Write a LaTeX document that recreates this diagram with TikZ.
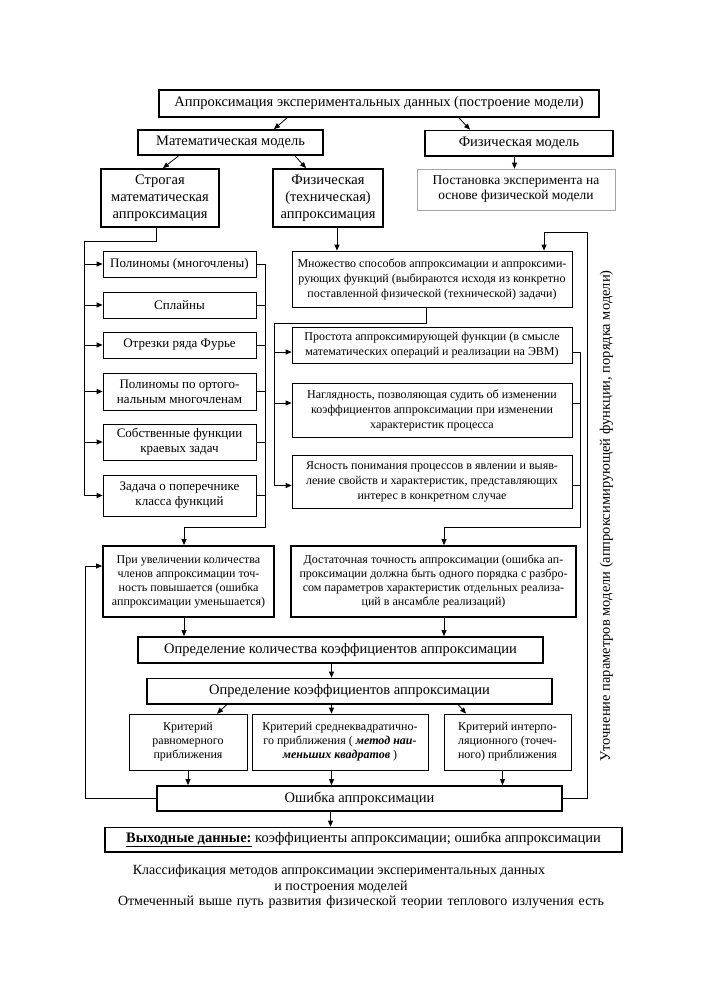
\documentclass[tikz,border=0pt]{standalone}
\usepackage{fontspec}
\setmainfont{Liberation Serif}
\usetikzlibrary{arrows.meta}
\newcommand\fmain{\fontsize{14.5}{17}\selectfont}
\newcommand\fcap{\fontsize{14}{16}\selectfont}
\newcommand\fpost{\fontsize{13.5}{15}\selectfont}
\newcommand\flist{\fontsize{13}{15}\selectfont}
\newcommand\fright{\fontsize{12}{15}\selectfont}
\newcommand\fsmall{\fontsize{12}{14}\selectfont}
\tikzset{
  thickbox/.style={draw, line width=1.8pt, inner sep=1pt, align=center, font=\fmain},
  thinbox/.style={draw, line width=0.8pt, inner sep=1pt, align=center},
  arr/.style={-{Triangle[length=6pt,width=5pt]}, line width=0.8pt},
  ln/.style={line width=0.8pt},
  plain/.style={inner sep=0pt, font=\fmain},
  captext/.style={inner sep=0pt, font=\fcap}
}
\begin{document}
\begin{tikzpicture}[x=1pt,y=-1pt]
\fill[white] (0,0) rectangle (709,1004);
\useasboundingbox (0,0) rectangle (709,1004);
% top level
\node[thickbox, minimum width=440, minimum height=27] (top) at (379,103.5) {Аппроксимация экспериментальных данных (построение модели)};
\node[thickbox, minimum width=185, minimum height=25] (mm) at (230.5,142.5) {Математическая модель};
\node[thickbox, minimum width=188, minimum height=25.5] (pm) at (519,143.3) {Физическая модель};
\node[thickbox, minimum width=118, minimum height=58] (strict) at (160,198) {Строгая\\математическая\\аппроксимация};
\node[thickbox, minimum width=110, minimum height=58] (phys) at (328,198) {Физическая\\(техническая)\\аппроксимация};
\node[thinbox, draw=gray!70, font=\fpost, minimum width=198, minimum height=41] (post) at (516,189.5) {Постановка эксперимента на\\основе физической модели};
% left list
\begin{scope}[every node/.style={thinbox, font=\flist, minimum width=153}]
\node[minimum height=26] (pol) at (179.5,264) {Полиномы (многочлены)};
\node[minimum height=26] (spl) at (179.5,305) {Сплайны};
\node[minimum height=26] (fur) at (179.5,345) {Отрезки ряда Фурье};
\node[minimum height=37] (ort) at (179.5,391.5) {Полиномы по ортого-\\нальным многочленам};
\node[minimum height=36] (sob) at (179.5,442) {Собственные функции\\краевых задач};
\node[minimum height=41] (zad) at (179.5,495.5) {Задача о поперечнике\\класса функций};
\end{scope}
% right list
\begin{scope}[every node/.style={thinbox, font=\fright, minimum width=280}]
\node[minimum height=56] (mn) at (432,279) {Множество способов аппроксимации и аппроксими-\\рующих функций (выбираются исходя из конкретно\\поставленной физической (технической) задачи)};
\node[minimum height=36] (pr) at (432,345) {Простота аппроксимирующей функции (в смысле\\математических операций и реализации на ЭВМ)};
\node[minimum height=54] (na) at (432,410) {Наглядность, позволяющая судить об изменении\\коэффициентов аппроксимации при изменении\\характеристик процесса};
\node[minimum height=53] (ya) at (432,481.5) {Ясность понимания процессов в явлении и выяв-\\ление свойств и характеристик, представляющих\\интерес в конкретном случае};
\end{scope}
\node[thickbox, font=\fsmall, minimum width=171, minimum height=71] (pri) at (188.5,581.5) {При увеличении количества\\членов аппроксимации точ-\\ность повышается (ошибка\\аппроксимации уменьшается)};
\node[thickbox, font=\fsmall, minimum width=285, minimum height=71] (dos) at (433.5,581.5) {Достаточная точность аппроксимации (ошибка ап-\\проксимации должна быть одного порядка с разбро-\\сом параметров характеристик отдельных реализа-\\ций в ансамбле реализаций)};
\node[thickbox, minimum width=405, minimum height=26] (ok) at (340.5,650) {Определение количества коэффициентов аппроксимации};
\node[thickbox, minimum width=405, minimum height=25.5] (ko) at (349.5,691.3) {Определение коэффициентов аппроксимации};
\node[thinbox, font=\fsmall, minimum width=118, minimum height=56] (k1) at (188,742) {Критерий\\равномерного\\приближения};
\node[thinbox, font=\fsmall, minimum width=176, minimum height=56] (k2) at (340,742) {Критерий среднеквадратично-\\го приближения ( \textbf{\textit{метод наи-}}\\\textbf{\textit{меньших квадратов}} )};
\node[thinbox, font=\fsmall, minimum width=127, minimum height=56] (k3) at (507.5,742) {Критерий интерпо-\\ляционного (точеч-\\ного) приближения};
\node[thickbox, minimum width=405, minimum height=25] (osh) at (359.5,798.5) {Ошибка аппроксимации};
\node[thickbox, minimum width=517, minimum height=24.5] (vyh) at (363.5,839.8) {\underline{\textbf{Выходные данные:}} коэффициенты аппроксимации; ошибка аппроксимации};
% rotated label
\node[plain, rotate=90] (utoch) at (606.5,516) {Уточнение параметров модели (аппроксимирующей функции, порядка модели)};
% caption
\node[captext] (cap1) at (339,871) {Классификация методов аппроксимации экспериментальных данных};
\node[captext] (cap2) at (341,887) {и построения моделей};
\node[captext] (cap3) at (361,902.5) {\makebox[486pt][s]{Отмеченный\hspace{2pt plus 1fil} выше\hspace{2pt plus 1fil} путь\hspace{2pt plus 1fil} развития\hspace{2pt plus 1fil} физической\hspace{2pt plus 1fil} теории\hspace{2pt plus 1fil} теплового\hspace{2pt plus 1fil} излучения\hspace{2pt plus 1fil} есть}};
% coordinates
\coordinate (lbus) at (84,241);
\coordinate (rbus) at (265,527);
\coordinate (mbus) at (274,323);
\coordinate (rrbus) at (580,527);
\coordinate (fbL) at (85,566);
\coordinate (fbR) at (587.5,232);
\coordinate (pmS) at ([xshift=-4.5pt]pm.south);
\coordinate (phS) at ([xshift=9pt]phys.south);
\coordinate (prS) at ([xshift=-4.5pt]pri.south);
\coordinate (doS) at ([xshift=10.5pt]dos.south);
\coordinate (okS) at ([xshift=-9pt]ok.south);
\coordinate (koS) at ([xshift=-18pt]ko.south);
\coordinate (k3S) at ([xshift=-5pt]k3.south);
\coordinate (oshS) at ([xshift=-29pt]osh.south);
\coordinate (prW) at ([yshift=-7pt]pr.west);
\coordinate (prE) at ([yshift=-7pt]pr.east);
\coordinate (naW) at ([yshift=7pt]na.west);
\coordinate (naE) at ([yshift=7pt]na.east);
\coordinate (yaW) at ([yshift=-4pt]ya.west);
\coordinate (yaE) at ([yshift=-4pt]ya.east);
% connectors top
\draw[arr] ([xshift=-92pt]top.south) -- ([xshift=43.5pt]mm.north);
\draw[arr] ([xshift=80pt]top.south) -- ([xshift=-49pt]pm.north);
\draw[arr] ([xshift=-52pt]mm.south) -- ([xshift=3pt]strict.north);
\draw[arr] ([xshift=64.5pt]mm.south) -- ([xshift=-22pt]phys.north);
\draw[arr] (pmS) -- (pmS |- post.north);
% left bus
\draw[arr] ([xshift=-4pt]strict.south) |- (lbus) |- (zad.west);
\foreach \n in {pol,spl,fur,ort,sob} \draw[arr] (lbus |- \n.west) -- (\n.west);
\draw[arr] (pol.east) -| (rbus) -| ([xshift=-4.5pt]pri.north);
\foreach \n in {spl,fur,ort,sob,zad} \draw[ln] (\n.east) -- (\n.east -| rbus);
% right column
\draw[arr] (phS) -- (phS |- mn.north);
\draw[arr] ([xshift=-6pt]mn.south) |- (mbus) |- (yaW);
\draw[arr] (mbus |- prW) -- (prW);
\draw[arr] (mbus |- naW) -- (naW);
\draw[arr] (prE) -| (rrbus) -| ([xshift=10.5pt]dos.north);
\draw[ln] (naE) -- (naE -| rrbus);
\draw[ln] (yaE) -- (yaE -| rrbus);
% lower part
\draw[arr] (prS) -- (prS |- ok.north);
\draw[arr] (doS) -- (doS |- ok.north);
\draw[arr] (okS) -- (okS |- ko.north);
\draw[arr] ([xshift=-123pt]ko.south) -- ([xshift=29pt]k1.north);
\draw[arr] (koS) -- (koS |- k2.north);
\draw[arr] ([xshift=109pt]ko.south) -- ([xshift=-41.5pt]k3.north);
\draw[arr] (k1.south) -- (k1.south |- osh.north);
\draw[arr] (koS |- k2.south) -- (koS |- osh.north);
\draw[arr] (k3S) -- (k3S |- osh.north);
\draw[arr] (oshS) -- (oshS |- vyh.north);
% feedback loops
\draw[arr] (osh.west) -| (fbL) -- (fbL -| pri.west);
\draw[arr] (osh.east) -| (fbR) -| ([xshift=112pt]mn.north);
\end{tikzpicture}
\end{document}
